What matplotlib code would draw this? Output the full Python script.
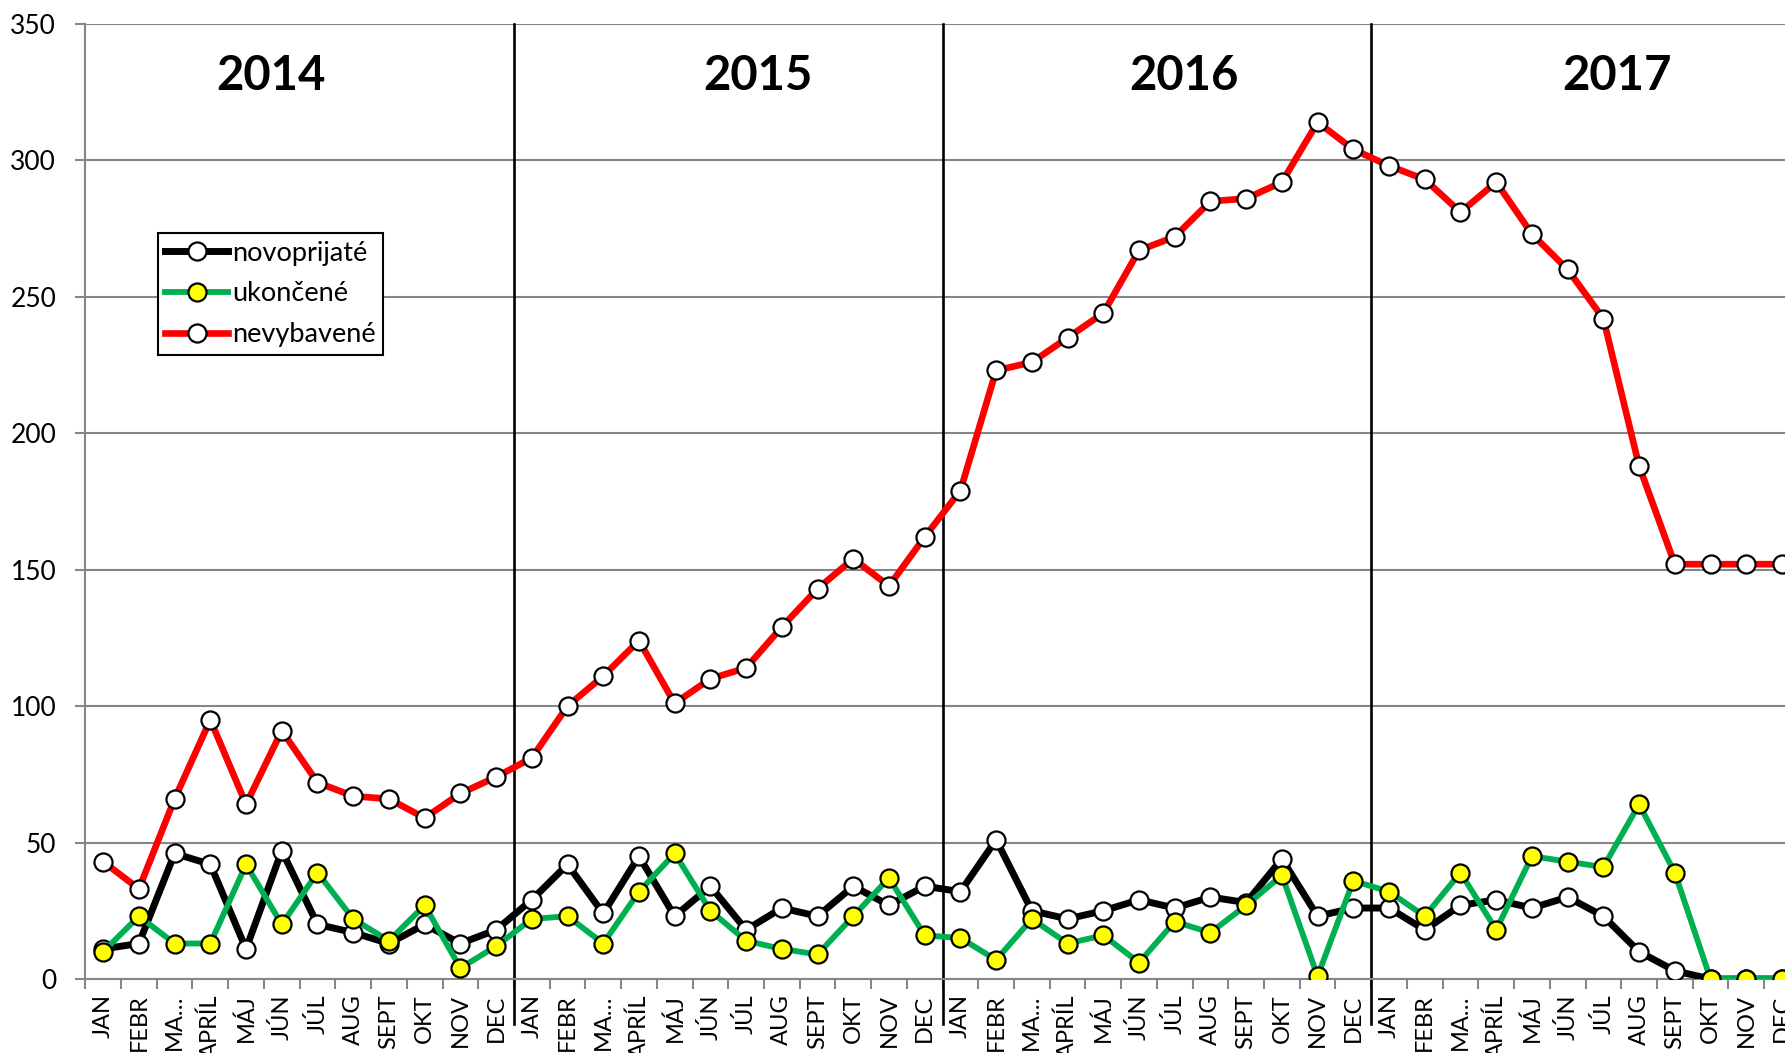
import matplotlib
matplotlib.use("Agg")
import matplotlib.pyplot as plt
import numpy as np

years = ["2014", "2015", "2016", "2017"]
months = ["JAN", "FEBR", "MA…", "APRÍL", "MÁJ", "JÚN", "JÚL", "AUG", "SEPT", "OKT", "NOV", "DEC"]

novoprijate = [11, 13, 46, 42, 11, 47, 20, 17, 13, 20, 13, 18,
               29, 42, 24, 45, 23, 34, 18, 26, 23, 34, 27, 34,
               32, 51, 25, 22, 25, 29, 26, 30, 28, 44, 23, 26,
               26, 18, 27, 29, 26, 30, 23, 10, 3, 0, 0, 0]
ukoncene = [10, 23, 13, 13, 42, 20, 39, 22, 14, 27, 4, 12,
            22, 23, 13, 32, 46, 25, 14, 11, 9, 23, 37, 16,
            15, 7, 22, 13, 16, 6, 21, 17, 27, 38, 1, 36,
            32, 23, 39, 18, 45, 43, 41, 64, 39, 0, 0, 0]
nevybavene = [43, 33, 66, 95, 64, 91, 72, 67, 66, 59, 68, 74,
              81, 100, 111, 124, 101, 110, 114, 129, 143, 154, 144, 162,
              179, 223, 226, 235, 244, 267, 272, 285, 286, 292, 314, 304,
              298, 293, 281, 292, 273, 260, 242, 188, 152, 152, 152, 152]

# where the year captions sit (category units)
year_label_x = [4.7, 18.33, 30.26, 42.38]

plt.rcParams['font.family'] = ['Lato', 'DejaVu Sans']

fig = plt.figure(figsize=(17.85, 10.53), dpi=100)
ax = fig.add_axes([0.0478, 0.0703, 0.9605, 0.907])

x = np.arange(len(nevybavene))
labels = months * len(years)

grid_c = '#868686'
ax.set_axisbelow(True)
ax.yaxis.grid(True, color=grid_c, linewidth=1.5)

ax.plot(x, novoprijate, color='black', lw=5, marker='o', ms=13,
        mfc='white', mec='black', mew=1.6, label='novoprijaté', zorder=3)
ax.plot(x, ukoncene, color='#00B050', lw=4.2, marker='o', ms=13,
        mfc='#FFFF00', mec='black', mew=1.6, label='ukončené', zorder=4)
ax.plot(x, nevybavene, color='#FF0000', lw=4.8, marker='o', ms=13,
        mfc='white', mec='black', mew=1.6, label='nevybavené', zorder=5)

# year separators, running a bit below the axis
for k in range(1, len(years)):
    ax.axvline(12 * k - 0.5, ymin=-0.047, ymax=1, color='black', lw=1.9,
               clip_on=False, zorder=2)

for yl, xp in zip(years, year_label_x):
    ax.text(xp, 331, yl, ha='center', va='center', fontsize=34,
            fontweight='bold')

ax.set_xlim(-0.5, len(x) - 0.5)
ax.set_ylim(0, 350)
ax.set_yticks(np.arange(0, 351, 50))

ax.set_xticks(x)
ax.set_xticklabels(labels, rotation=90, fontsize=17)
ax.set_xticks(np.arange(-0.5, len(x), 1), minor=True)
ax.tick_params(axis='x', which='major', length=0, pad=11)
ax.tick_params(axis='x', which='minor', length=7, width=1.5, color=grid_c)
ax.tick_params(axis='y', length=7, width=1.5, color=grid_c, labelsize=19,
               pad=14)

for s in ['top', 'right']:
    ax.spines[s].set_visible(False)
for s in ['left', 'bottom']:
    ax.spines[s].set_color(grid_c)
    ax.spines[s].set_linewidth(1.5)

leg = ax.legend(loc='upper left', bbox_to_anchor=(0.0423, 0.781),
                borderaxespad=0, fontsize=19.5, fancybox=False,
                handlelength=2.3, handletextpad=0.15, labelspacing=0.58,
                borderpad=0.28, framealpha=1)
leg.get_frame().set_edgecolor('black')
leg.get_frame().set_linewidth(1.5)

fig.savefig('out.png', dpi=100)
